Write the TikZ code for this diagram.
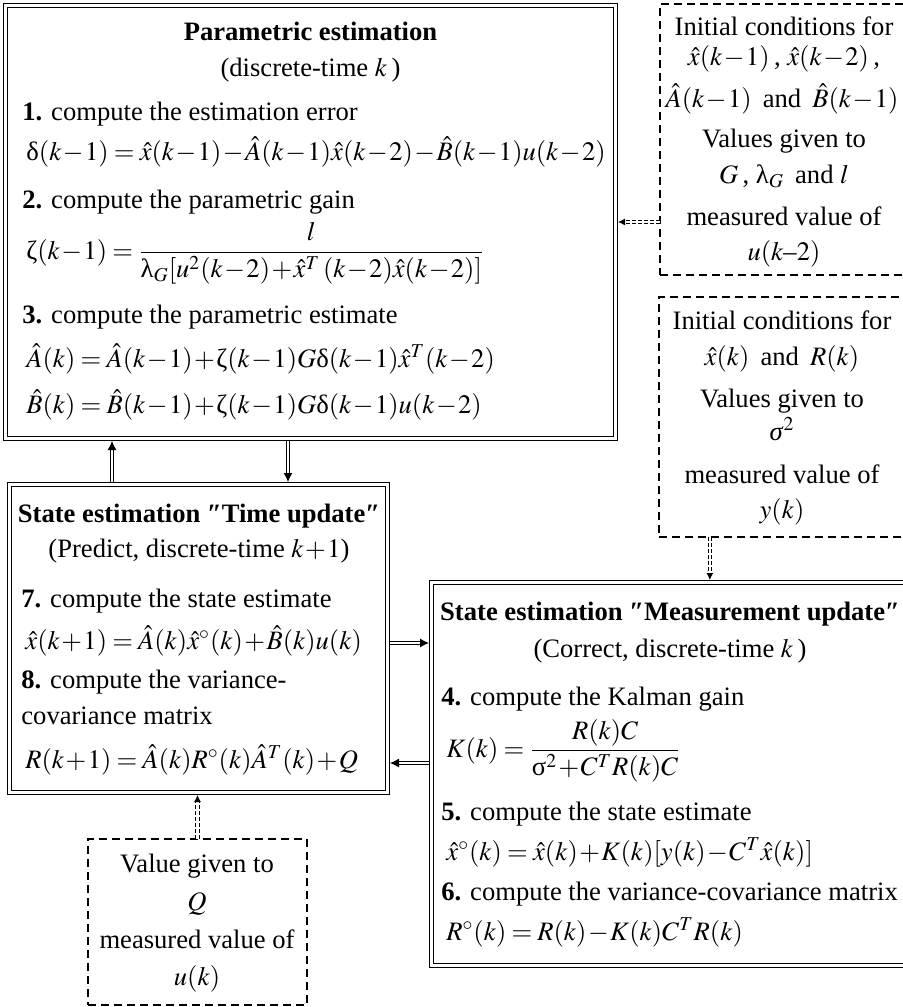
\documentclass[tikz,border=0pt]{standalone}
\usepackage{mathptmx}
\usepackage[no-math]{fontspec}
\setmainfont{Liberation Serif}
\usetikzlibrary{arrows.meta,calc}
\medmuskip=1mu plus 1mu minus 0.5mu
\thickmuskip=3.5mu plus 2mu
% upright Greek as in the reference
\newcommand{\grdelta}{\mbox{δ}}
\newcommand{\grzeta}{\mbox{ζ}}
\newcommand{\grlambda}{\mbox{λ}}
\newcommand{\grsigma}{\mbox{σ}}
\tikzset{
  node-frame/.style={draw,double,line width=0.7pt,double distance=1.3pt,
    inner sep=0pt,outer sep=1.35pt},
  node-input/.style={draw,line width=0.6pt,dash pattern=on 4pt off 2.5pt,
    inner sep=0pt,outer sep=0pt},
  line-l/.style={anchor=base west,inner sep=0pt},
  line-c/.style={anchor=base,inner sep=0pt},
  arrow/.style={double,line width=0.5pt,double distance=1.4pt,
    -{Latex[length=4.5pt,width=4.5pt]}},
  arrow-input/.style={double,line width=0.5pt,double distance=1.2pt,
    dash pattern=on 1.8pt off 1.2pt,-{Latex[length=3.5pt,width=3.5pt]}},
}

\begin{document}
\begin{tikzpicture}[x=0.5pt,y=0.5pt,
    every node/.style={font=\fontsize{13.3pt}{16pt}\selectfont}]
  \useasboundingbox (0,0) rectangle (903,-1007);
  % frames
  \node[node-frame,minimum width=304.8pt,minimum height=216.3pt] (pe) at (310.5,-222) {};
  \node[node-frame,minimum width=188.8pt,minimum height=153.8pt] (tu) at (198.5,-638.5) {};
  \node[node-frame,minimum width=237.15pt,minimum height=191.3pt] (mu) at (668.85,-774) {};
  \node[node-input,minimum width=123pt,minimum height=135.5pt] (ia) at (783,-139.5) {};
  \node[node-input,minimum width=123.5pt,minimum height=120pt] (ib) at (782.5,-417) {};
  \node[node-input,minimum width=109.5pt,minimum height=83pt] (iq) at (197.5,-922) {};

  % parametric estimation
  \node[line-c] (pe-t) at (310.5,-40) {\textbf{Parametric estimation}};
  \node[line-c] (pe-s) at (310.5,-76) {(discrete-time~$k$\,)};
  \node[line-l] (pe-1) at (22,-120) {\textbf{1.} compute the estimation error};
  \node[line-l] (pe-1f) at (26,-160) {$\grdelta(k-1)=\hat{x}(k-1)-\hat{A}(k-1)\hat{x}(k-2)-\hat{B}(k-1)u(k-2)$};
  \node[line-l] (pe-2) at (22,-208) {\textbf{2.} compute the parametric gain};
  \node[line-l] (pe-2f) at (26,-259) {$\displaystyle\grzeta(k-1)=\frac{l}{\grlambda_G[u^2(k-2)+\hat{x}^T\,(k-2)\hat{x}(k-2)]}$};
  \node[line-l] (pe-3) at (22,-323) {\textbf{3.} compute the parametric estimate};
  \node[line-l] (pe-3a) at (26,-367) {$\hat{A}(k)=\hat{A}(k-1)+\grzeta(k-1)G\grdelta(k-1)\hat{x}^T(k-2)$};
  \node[line-l] (pe-3b) at (26,-413) {$\hat{B}(k)=\hat{B}(k-1)+\grzeta(k-1)G\grdelta(k-1)u(k-2)$};

  % time update
  \node[line-c] (tu-t) at (199,-522) {\textbf{State estimation ″Time update″}};
  \node[line-c] (tu-s) at (199,-557) {(Predict, discrete-time~$k+1$)};
  \node[line-l] (tu-7) at (21,-607) {\textbf{7.} compute the state estimate};
  \node[line-l] (tu-7f) at (25,-649) {$\hat{x}(k+1)=\hat{A}(k)\hat{x}^\circ(k)+\hat{B}(k)u(k)$};
  \node[line-l] (tu-8) at (21,-688) {\textbf{8.} compute the variance-};
  \node[line-l] (tu-8b) at (21,-724) {covariance matrix};
  \node[line-l] (tu-8f) at (25,-768) {$R(k+1)=\hat{A}(k)R^\circ(k)\hat{A}^T(k)+Q$};

  % measurement update
  \node[line-c] (mu-t) at (670,-620) {\textbf{State estimation ″Measurement update″}};
  \node[line-c] (mu-s) at (670,-657) {(Correct, discrete-time~$k$\,)};
  \node[line-l] (mu-4) at (441,-705) {\textbf{4.} compute the Kalman gain};
  \node[line-l] (mu-4f) at (446,-757) {$\displaystyle K(k)=\frac{R(k)C}{\grsigma^2+C^TR(k)C}$};
  \node[line-l] (mu-5) at (441,-820) {\textbf{5.} compute the state estimate};
  \node[line-l] (mu-5f) at (446,-860) {$\hat{x}^\circ(k)=\hat{x}(k)+K(k)[y(k)-C^T\hat{x}(k)]$};
  \node[line-l] (mu-6) at (441,-900) {\textbf{6.} compute the variance-covariance matrix};
  \node[line-l] (mu-6f) at (446,-940) {$R^\circ(k)=R(k)-K(k)C^TR(k)$};

  % inputs
  \node[line-c] (ia-1) at (784,-35) {Initial conditions for};
  \node[line-c] (ia-2) at (784,-65) {$\hat{x}(k-1)$\,, $\hat{x}(k-2)$\,,};
  \node[line-c] (ia-3) at (782,-107) {$\hat{A}(k-1)$ \,and\, $\hat{B}(k-1)$};
  \node[line-c] (ia-4) at (784,-147) {Values given to};
  \node[line-c] (ia-5) at (784,-183) {$G$\,, $\grlambda_G$ \,and $l$};
  \node[line-c] (ia-6) at (784,-225) {measured value of};
  \node[line-c] (ia-7) at (784,-260) {$u(k$–$2)$};

  \node[line-c] (ib-1) at (782,-329) {Initial conditions for};
  \node[line-c] (ib-2) at (782,-365) {$\hat{x}(k)$ \,and\, $R(k)$};
  \node[line-c] (ib-3) at (782,-407) {Values given to};
  \node[line-c] (ib-4) at (782,-440) {\textit{σ}$^2$};
  \node[line-c] (ib-5) at (782,-483) {measured value of};
  \node[line-c] (ib-6) at (782,-518) {$y(k)$};

  \node[line-c] (iq-1) at (197,-872) {Value given to};
  \node[line-c] (iq-2) at (197,-910) {$Q$};
  \node[line-c] (iq-3) at (197,-948) {measured value of};
  \node[line-c] (iq-4) at (197,-985) {$u(k)$};

  % connectors
  \coordinate (c-up) at ($(tu.north)+(-86.5,0)$);
  \coordinate (c-dn) at ($(tu.north)+(89.5,0)$);
  \coordinate (c-rt) at ($(tu.east)+(0,-4.5)$);
  \coordinate (c-lt) at ($(tu.east)+(0,-124.5)$);
  \coordinate (c-ib) at ($(mu.north)+(41,0)$);
  \draw[arrow] (c-up) -- (c-up |- pe.south);
  \draw[arrow] (c-dn |- pe.south) -- (c-dn);
  \draw[arrow] (c-rt) -- (c-rt -| mu.west);
  \draw[arrow] (c-lt -| mu.west) -- (c-lt);
  \draw[arrow-input] (ia.west |- pe.east) -- (pe.east);
  \draw[arrow-input] (c-ib |- ib.south) -- (c-ib);
  \draw[arrow-input] (iq.north) -- (iq.north |- tu.south);
\end{tikzpicture}
\end{document}
